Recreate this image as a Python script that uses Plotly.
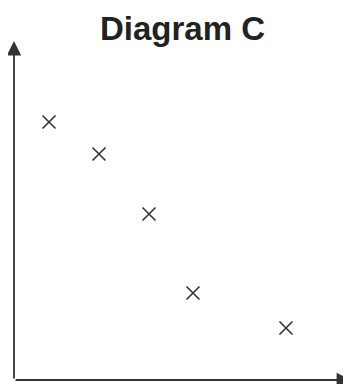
import plotly.graph_objects as go

# Data (arbitrary units measured from the origin)
x_vals = [35, 85, 135, 179, 272]
y_vals = [258, 226, 166, 87, 52]
title_text = "Diagram C"

X_MAX = 337
Y_MAX = 372

fig = go.Figure()
fig.add_trace(go.Scatter(
    x=x_vals, y=y_vals, mode="markers",
    marker=dict(symbol="x-thin", size=13, line=dict(width=1.6, color="#333333"), color="#333333"),
    cliponaxis=False, hoverinfo="skip",
))

axis_color = "#333333"
# y axis arrow
fig.add_annotation(x=0, y=339, ax=0, ay=0, xref="x", yref="y", axref="x", ayref="y",
                   showarrow=True, arrowhead=2, arrowsize=1.6, arrowwidth=1.8,
                   arrowcolor=axis_color, text="")
# x axis arrow
fig.add_annotation(x=337, y=0, ax=0, ay=0, xref="x", yref="y", axref="x", ayref="y",
                   showarrow=True, arrowhead=2, arrowsize=1.6, arrowwidth=1.8,
                   arrowcolor=axis_color, text="")
# title
fig.add_annotation(x=168.5, y=352, xref="x", yref="y", text="<b>" + title_text + "</b>",
                   showarrow=False, font=dict(family="Liberation Sans, Arial", size=33, color="#222222"))

fig.update_xaxes(range=[0, X_MAX], visible=False, fixedrange=True)
fig.update_yaxes(range=[0, Y_MAX], visible=False, fixedrange=True)
fig.update_layout(width=343, height=376, margin=dict(l=6, r=0, t=0, b=4),
                  plot_bgcolor="white", paper_bgcolor="white", showlegend=False)
fig.write_html("out.html", config={"displayModeBar": False})
